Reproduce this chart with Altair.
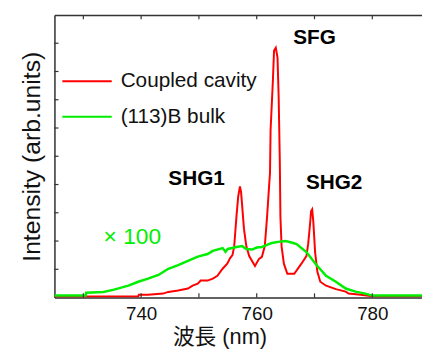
import altair as alt
import pandas as pd

# ---- data ----
series_names = ["Coupled cavity", "(113)B bulk"]
series_colors = ["#ff0000", "#00ee00"]

red_nm = [725.0, 739.5, 739.6, 741.2, 743.8, 744.7, 746.4, 748.1, 748.9, 749.8, 750.3, 751.5,
          752.4, 753.2, 754.1, 754.9, 755.4, 755.8, 756.1, 756.5, 756.8, 757.1, 757.3, 757.5,
          757.8, 758.2, 758.7, 759.7, 760.4, 760.9, 761.4, 761.8, 762.1, 762.3, 762.4, 762.8,
          763.0, 763.3, 763.6, 763.8, 764.0, 764.1, 764.3, 764.7, 765.3, 766.5, 767.7, 768.6,
          768.9, 769.1, 769.3, 769.4, 769.6, 769.8, 770.1, 770.5, 771.0, 772.0, 773.7, 775.4,
          775.9, 778.0, 780.0, 789.0]
red_val = [0.04, 0.04, 0.10, 0.10, 0.14, 0.20, 0.25, 0.32, 0.42, 0.49, 0.60, 0.60,
           0.67, 0.77, 1.02, 1.20, 1.40, 1.50, 1.80, 2.88, 3.58, 3.93, 3.72, 3.20,
           2.42, 1.82, 1.47, 1.12, 1.37, 1.44, 1.82, 2.88, 3.82, 4.42, 5.93, 7.68,
           8.74, 8.84, 8.49, 7.09, 4.77, 2.88, 1.82, 1.20, 0.84, 0.84, 1.19, 1.47,
           1.89, 2.32, 2.77, 3.05, 3.12, 2.67, 1.61, 0.91, 0.56, 0.42, 0.30, 0.21,
           0.14, 0.10, 0.05, 0.05]

green_nm = [725.0, 730.4, 730.5, 733.5, 735.3, 737.8, 739.5, 741.2, 743.0, 744.7, 746.4, 748.1,
            749.8, 751.5, 752.4, 754.1, 754.6, 755.0, 756.5, 757.5, 758.2, 759.2, 760.0, 760.9,
            762.0, 762.6, 764.0, 765.0, 766.0, 766.9, 768.6, 770.3, 772.0, 773.7, 775.4, 777.1,
            778.8, 780.0, 789.0]
green_val = [0.07, 0.07, 0.17, 0.20, 0.28, 0.42, 0.56, 0.67, 0.80, 1.02, 1.15, 1.30,
             1.45, 1.54, 1.65, 1.75, 1.62, 1.72, 1.79, 1.82, 1.72, 1.70, 1.77, 1.79,
             1.88, 1.93, 1.98, 2.00, 1.95, 1.89, 1.61, 1.16, 0.77, 0.56, 0.32, 0.21,
             0.14, 0.07, 0.07]

x_label_values = [740, 760, 780]
x_minor_ticks = [730, 740, 750, 760, 770, 780]
y_minor_ticks = [1, 2, 3, 4, 5, 6, 7, 8, 9]

peak_labels = ["SFG", "SHG1", "SHG2"]
peak_label_nm = [770.0, 749.6, 773.4]
peak_label_val = [9.19, 4.18, 4.04]

scale_note = ["× 100"]
scale_note_nm = [733.5]
scale_note_val = [2.14]

X_MIN, X_MAX = 725.0, 788.6
Y_MIN, Y_MAX = 0.0, 10.0

FONT = "Liberation Sans, Arial, Noto Sans CJK JP"
AXIS_COLOR = "#333333"

# ---- tables ----
red_df = pd.DataFrame({"nm": red_nm, "value": red_val, "series": series_names[0]})
green_df = pd.DataFrame({"nm": green_nm, "value": green_val, "series": series_names[1]})
bottom_ticks = pd.DataFrame({"nm": x_minor_ticks, "value": Y_MIN, "value2": Y_MIN + 0.15})
top_ticks = pd.DataFrame({"nm": x_minor_ticks, "value": Y_MAX, "value2": Y_MAX - 0.15})
left_ticks = pd.DataFrame({"nm": X_MIN, "nm2": X_MIN + 0.7, "value": y_minor_ticks})
peaks_df = pd.DataFrame({"label": peak_labels, "nm": peak_label_nm, "value": peak_label_val})
note_df = pd.DataFrame({"label": scale_note, "nm": scale_note_nm, "value": scale_note_val})

xs = alt.Scale(domain=[X_MIN, X_MAX], nice=False, zero=False)
ys = alt.Scale(domain=[Y_MIN, Y_MAX], nice=False, zero=False)

y_axis = alt.Axis(title="Intensity (arb.units)", labels=False, ticks=False, grid=False,
                  domainColor=AXIS_COLOR, domainWidth=1.5, titleFontSize=25,
                  titleFont=FONT, titleFontWeight="normal", titleColor="#111111",
                  titlePadding=10)

bottom_axis = alt.Axis(title="波長 (nm)", values=x_label_values, ticks=False, tickSize=0,
                       grid=False, domainColor=AXIS_COLOR, domainWidth=1.5,
                       labelFontSize=19, labelFont=FONT, labelColor="#111111", labelPadding=7,
                       titleFontSize=22, titleFont=FONT, titleFontWeight="normal",
                       titleColor="#111111", titlePadding=4, titleX=167)

top_axis = alt.Axis(orient="top", title=None, labels=False, ticks=False, grid=False,
                    domainColor=AXIS_COLOR, domainWidth=1.5)

color = alt.Color("series:N",
                  scale=alt.Scale(domain=series_names, range=series_colors),
                  legend=alt.Legend(orient="none", legendX=7, legendY=41, title=None,
                                    symbolType="stroke", symbolSize=2500,
                                    symbolStrokeWidth=2, labelFontSize=21, labelFont=FONT,
                                    labelColor="#111111", labelOffset=8, padding=0,
                                    rowPadding=-26, direction="vertical"))

red_line = alt.Chart(red_df).mark_line(strokeWidth=2, clip=True).encode(
    x=alt.X("nm:Q", scale=xs, axis=bottom_axis),
    y=alt.Y("value:Q", scale=ys, axis=y_axis),
    color=color,
)
green_line = alt.Chart(green_df).mark_line(strokeWidth=2.5, clip=True).encode(
    x=alt.X("nm:Q", scale=xs, axis=None),
    y=alt.Y("value:Q", scale=ys, axis=y_axis),
    color=color,
)

tick_style = dict(color=AXIS_COLOR, strokeWidth=1.2)
bt = alt.Chart(bottom_ticks).mark_rule(**tick_style).encode(
    x=alt.X("nm:Q", scale=xs, axis=None),
    y=alt.Y("value:Q", scale=ys, axis=y_axis), y2="value2:Q")
tt = alt.Chart(top_ticks).mark_rule(**tick_style).encode(
    x=alt.X("nm:Q", scale=xs, axis=top_axis),
    y=alt.Y("value:Q", scale=ys, axis=y_axis), y2="value2:Q")
lt = alt.Chart(left_ticks).mark_rule(**tick_style).encode(
    x=alt.X("nm:Q", scale=xs, axis=None), x2="nm2:Q",
    y=alt.Y("value:Q", scale=ys, axis=y_axis))

peaks = alt.Chart(peaks_df).mark_text(font=FONT, fontSize=21, fontWeight="bold",
                                      color="#000000", baseline="middle", align="center").encode(
    x=alt.X("nm:Q", scale=xs, axis=None),
    y=alt.Y("value:Q", scale=ys, axis=y_axis),
    text="label:N")
note = alt.Chart(note_df).mark_text(font=FONT, fontSize=23, color="#00ee00",
                                    baseline="middle", align="left").encode(
    x=alt.X("nm:Q", scale=xs, axis=None),
    y=alt.Y("value:Q", scale=ys, axis=y_axis),
    text="label:N")

chart = alt.layer(red_line, green_line, bt, tt, lt, peaks, note).resolve_axis(
    x="independent"
).properties(
    width=372, height=286,
    autosize=alt.AutoSizeParams(type="none"),
    padding={"left": 47, "top": 5, "right": 0, "bottom": 50},
).configure_view(stroke=None).configure(background="white")

chart.save("out.html", embed_options={"renderer": "svg", "actions": False})
